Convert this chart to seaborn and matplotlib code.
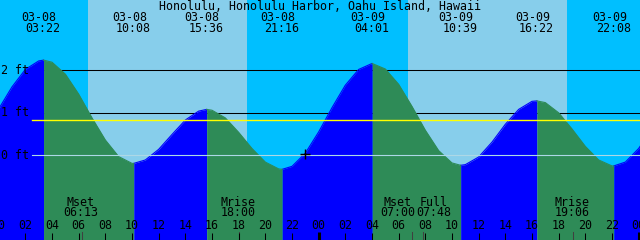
import numpy as np
import pandas as pd
import matplotlib
matplotlib.use("Agg")
import matplotlib.pyplot as plt
import seaborn as sns

# ---------------- data ----------------
title = "Honolulu, Honolulu Harbor, Oahu Island, Hawaii"

# hourly tide level (ft), hours counted from 03-08 00:00
hourly_hours = list(range(0, 50))
hourly_levels = [1.09, 1.61, 2.02, 2.22, 2.19, 1.91, 1.44, 0.88, 0.36, -0.03,
                 -0.19, -0.11, 0.14, 0.49, 0.83, 1.04, 1.06, 0.88, 0.54, 0.16,
                 -0.16, -0.32, -0.26, 0.05, 0.55, 1.12, 1.65, 2.02, 2.16, 2.03,
                 1.67, 1.15, 0.59, 0.11, -0.18, -0.22, -0.04, 0.31, 0.73, 1.08,
                 1.27, 1.24, 1.00, 0.62, 0.21, -0.11, -0.25, -0.16, 0.16, 0.63]

# high / low tide events
tide_dates = ["03-08", "03-08", "03-08", "03-08", "03-09", "03-09", "03-09", "03-09"]
tide_times = ["03:22", "10:08", "15:36", "21:16", "04:01", "10:39", "16:22", "22:08"]
tide_days = [0, 0, 0, 0, 1, 1, 1, 1]
tide_levels = [2.24, -0.19, 1.08, -0.33, 2.16, -0.235, 1.28, -0.25]

# sun
sunrise_times = ["06:42", "06:42"]
sunset_times = ["18:37", "18:37"]
sun_days = [0, 1]

# moon events
moon_names = ["Mset", "Mrise", "Mset", "Full", "Mrise"]
moon_times = ["06:13", "18:00", "07:00", "07:48", "19:06"]
moon_days = [0, 0, 1, 1, 1]

# current-time marker
now_time = "22:58"
now_day = 0
now_level = 0.04

ft_labels = ["2 ft", "1 ft", "0 ft"]
ft_values = [2, 1, 0]
msl_level = 0.82

# ---------------- helpers ----------------
def hrs(t, day):
    h, m = t.split(":")
    return day * 24 + int(h) + int(m) / 60.0

PXH = 640 / 48.0          # pixels per hour
X0 = 0.1                  # hour at left edge
Y0 = 155.3                # pixel row of 0 ft
PXF = 42.5                # pixels per foot

def fx(xpx):
    return xpx / PXH + X0

def fy(ypx):
    return (Y0 - ypx) / PXF

DEEP = "#00BFFF"
SKY = "#87CEEB"
FLOOD = "#0000FF"
EBB = "#2E8B57"
MONO = "DejaVu Sans Mono"
FS = 8.4

fig = plt.figure(figsize=(6.4, 2.4), dpi=100)
ax = fig.add_axes([0, 0, 1, 1])
ax.set_xlim(fx(0), fx(640))
ax.set_ylim(fy(240), fy(0))
ax.axis("off")
ax.set_facecolor(DEEP)
ax.axvspan(fx(-10), fx(700), color=DEEP, zorder=0, lw=0)
for sr, ss, d in zip(sunrise_times, sunset_times, sun_days):
    ax.axvspan(hrs(sr, d), hrs(ss, d), color=SKY, zorder=0.5, lw=0)

# black reference lines (under water)
for v in ft_values[:2]:
    ax.plot([fx(32), fx(640)], [v, v], color="black", lw=0.75, zorder=1,
            solid_capstyle="butt")

# ---------------- tide curve ----------------
ev_h = [hrs(t, d) for t, d in zip(tide_times, tide_days)]
pts = pd.DataFrame({"t": hourly_hours + ev_h,
                    "level": hourly_levels + tide_levels}).sort_values("t")
bounds = [hourly_hours[0]] + ev_h + [hourly_hours[-1]]
rows = []
for i in range(len(bounds) - 1):
    a, b = bounds[i], bounds[i + 1]
    seg = pts[(pts.t >= a - 1e-9) & (pts.t <= b + 1e-9)].copy()
    if len(seg) < 2:
        continue
    rising = seg.level.iloc[-1] > seg.level.iloc[0]
    seg["phase"] = "flood" if rising else "ebb"
    seg["seg"] = i
    rows.append(seg)
    ax.fill_between(seg.t, seg.level, fy(260), color=FLOOD if rising else EBB,
                    lw=0, zorder=2)
curve = pd.concat(rows)
sns.lineplot(data=curve, x="t", y="level", hue="phase", units="seg",
             estimator=None, palette={"flood": FLOOD, "ebb": EBB},
             lw=0.8, legend=False, ax=ax, zorder=2.1)

# MSL and datum lines (over water)
ax.plot([fx(32), fx(640)], [msl_level, msl_level], color="#FFFF00", lw=1.0, zorder=3)
ax.plot([fx(32), fx(640)], [0, 0], color="#ADD8E6", lw=0.8, zorder=3)

# current time marker
sns.scatterplot(x=[hrs(now_time, now_day)], y=[now_level], marker="+", s=60,
                color="black", linewidth=1.0, ax=ax, zorder=4, legend=False)

# ft labels
for lab, v in zip(ft_labels, ft_values):
    ax.text(fx(1), v, lab, family=MONO, fontsize=FS, ha="left", va="center",
            color="black", zorder=5)

# title
ax.text(fx(320), fy(6), title, family=MONO, fontsize=FS, ha="center",
        va="center", color="black", zorder=5)

# tide event labels
for dte, tm, d in zip(tide_dates, tide_times, tide_days):
    h = hrs(tm, d)
    ax.annotate(dte, (h, fy(17.5)), xytext=(-4.5, 0), textcoords="offset pixels",
                family=MONO, fontsize=FS, ha="center", va="center", zorder=5)
    ax.annotate(tm, (h, fy(29)), xytext=(-0.5, 0), textcoords="offset pixels",
                family=MONO, fontsize=FS, ha="center", va="center", zorder=5)

# moon labels and ticks
moon_dx = [-1, -1, -14, 11, -1]
for nm, tm, d, dx in zip(moon_names, moon_times, moon_days, moon_dx):
    h = hrs(tm, d)
    ax.annotate(nm, (h, fy(202)), xytext=(dx, 0), textcoords="offset pixels",
                family=MONO, fontsize=FS, ha="center", va="center", zorder=5)
    ax.annotate(tm, (h, fy(213)), xytext=(dx, 0), textcoords="offset pixels",
                family=MONO, fontsize=FS, ha="center", va="center", zorder=5)
    ax.plot([h, h], [fy(232), fy(241)], color="#404040", lw=0.75, zorder=5)

# hour ticks and labels
for hh in range(0, 50, 2):
    ax.text(hh, fy(225.5), f"{hh % 24:02d}", family=MONO, fontsize=FS,
            ha="center", va="center", zorder=5)
    if hh % 24 == 0:
        ax.plot([hh, hh], [fy(232), fy(241)], color="black", lw=2.2, zorder=5,
                solid_capstyle="butt")
    else:
        ax.plot([hh, hh], [fy(233), fy(241)], color="black", lw=0.75, zorder=5,
                solid_capstyle="butt")

fig.savefig("out.png", dpi=100)
